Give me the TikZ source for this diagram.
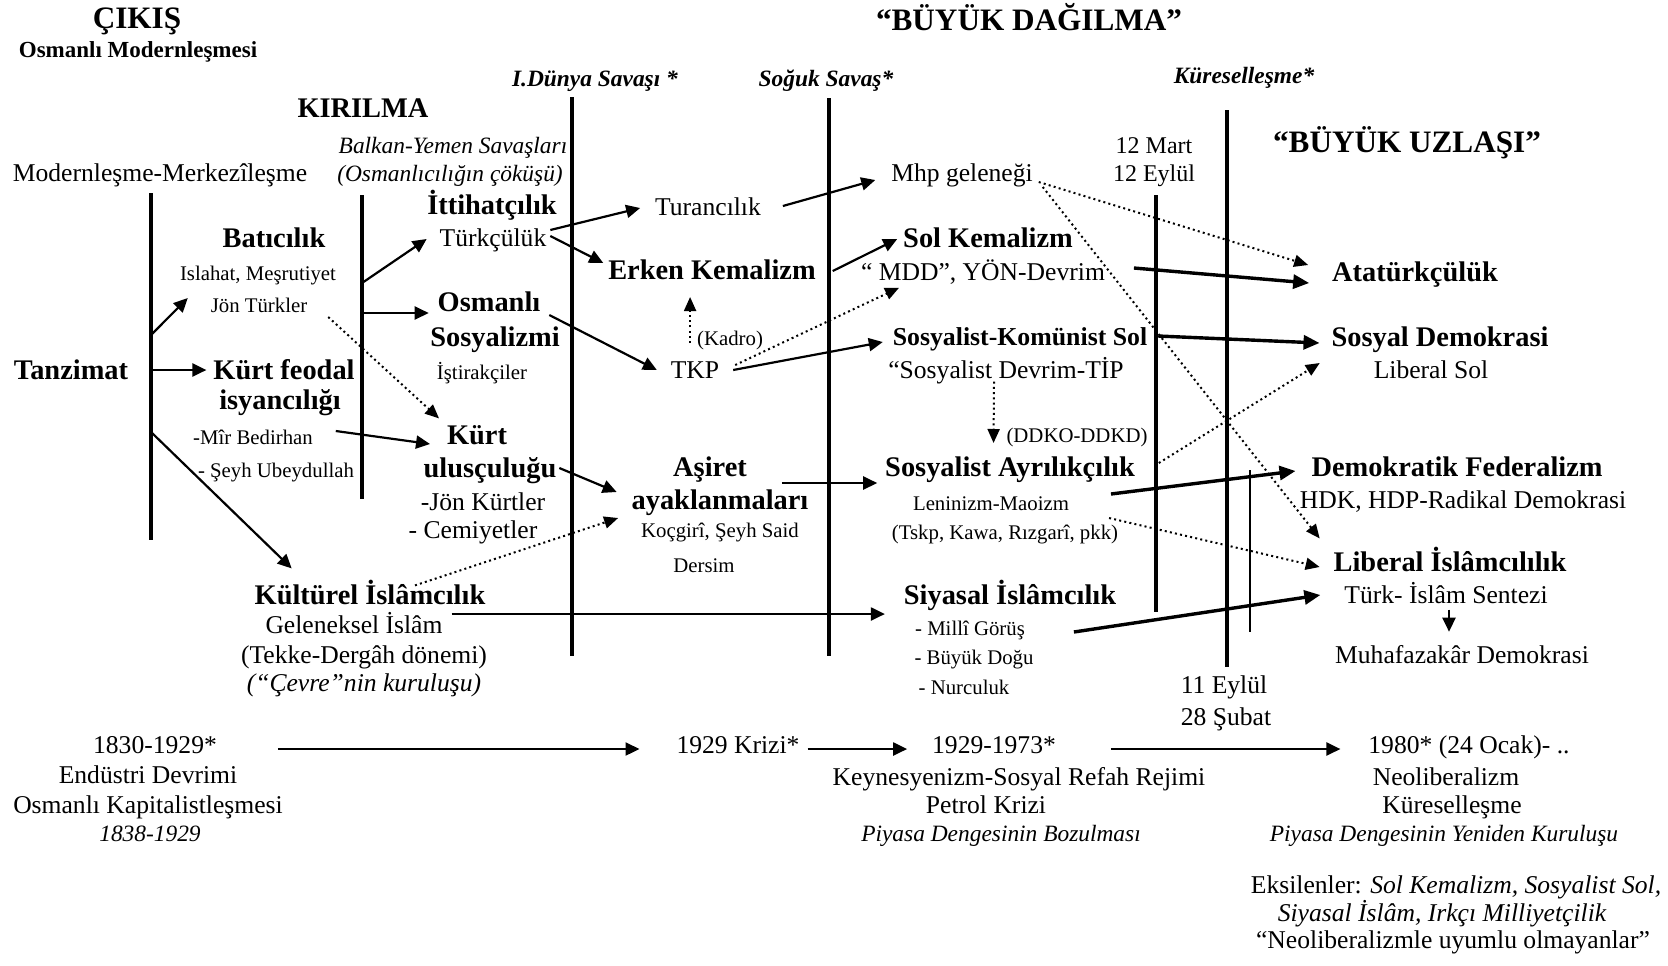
\documentclass[tikz,border=0pt]{standalone}
\usepackage{fontspec}
\setmainfont{Liberation Serif}
\usetikzlibrary{arrows.meta,calc}

\begin{document}
\begin{tikzpicture}[x=0.5pt,y=-0.5pt,
    every node/.style={inner sep=0.5pt,outer sep=0pt,text depth=0pt},
    hd/.style={font=\bfseries\fontsize{15.6}{18}\selectfont,text height=10.6pt},
    tit/.style={font=\bfseries\fontsize{14.2}{17}\selectfont,text height=9.6pt},
    sub/.style={font=\bfseries\fontsize{11.5}{14}\selectfont,text height=7.8pt},
    txt/.style={font=\fontsize{12.8}{15}\selectfont,text height=8.7pt},
    mid/.style={font=\fontsize{12}{14}\selectfont,text height=8.1pt},
    sml/.style={font=\fontsize{10.4}{12}\selectfont,text height=7.1pt},
    per/.style={font=\bfseries\itshape\fontsize{11.7}{14}\selectfont,text height=8pt},
    itl/.style={font=\itshape\fontsize{11.7}{14}\selectfont,text height=8pt},
    itx/.style={font=\itshape\fontsize{12.8}{15}\selectfont,text height=8.7pt},
    vline/.style={line width=1.7pt},
    thin/.style={line width=0.6pt},
    arr/.style={line width=1.1pt,-{Triangle[length=7pt,width=6.5pt]}},
    tarr/.style={line width=1.7pt,-{Triangle[length=8pt,width=7pt]}},
    darr/.style={line width=1pt,dash pattern=on 1pt off 1.6pt,-{Triangle[length=7pt,width=6pt]}}]
    \useasboundingbox (0,0) rectangle (1668,965);

    \coordinate (l1t) at (151,193); \coordinate (l1b) at (151,540);
    \coordinate (l2t) at (362,195); \coordinate (l2b) at (362,499);
    \coordinate (l3t) at (572,97);  \coordinate (l3b) at (572,656);
    \coordinate (l4t) at (829,98);  \coordinate (l4b) at (829,656);
    \coordinate (l5t) at (1156,195); \coordinate (l5b) at (1156,612);
    \coordinate (l6t) at (1227,110); \coordinate (l6b) at (1227,667);
    \coordinate (l7t) at (1250,470); \coordinate (l7b) at (1250,632);
    \coordinate (b1) at (151,335);
    \coordinate (b3) at (151,432);
    \coordinate (b4) at (362,283);
    \coordinate (b5) at (362,313);

    \draw[vline] (l1t) -- (l1b);
    \draw[vline] (l2t) -- (l2b);
    \draw[vline] (l3t) -- (l3b);
    \draw[vline] (l4t) -- (l4b);
    \draw[vline] (l5t) -- (l5b);
    \draw[vline] (l6t) -- (l6b);
    \draw[thin] (l7t) -- (l7b);

    \node[hd] (cikis) at (137,18) {ÇIKIŞ};
    \node[sub] (osmod) at (138,50) {Osmanlı Modernleşmesi};
    \node[tit] (kirilma) at (363,108) {KIRILMA};
    \node[hd] (dagilma) at (1029,20) {“BÜYÜK DAĞILMA”};
    \node[hd] (uzlasi) at (1407,142) {“BÜYÜK UZLAŞI”};
    \node[per] (ww1) at (595,78) {I.Dünya Savaşı *};
    \node[per] (cold) at (826,78) {Soğuk Savaş*};
    \node[per] (glob) at (1244,75) {Küreselleşme*};
    \node[itl] (balkan) at (453,145) {Balkan-Yemen Savaşları};
    \node[itl] (cokus) at (450,173) {(Osmanlıcılığın çöküşü)};
    \node[txt] (modmer) at (160,173) {Modernleşme-Merkezîleşme};
    \node[mid] (mart) at (1154,145) {12 Mart};
    \node[mid] (eylul) at (1154,173) {12 Eylül};

    \node[tit] (tanzimat) at (71,370) {Tanzimat};
    \node[tit] (bati) at (274,238) {Batıcılık};
    \node[sml] (islahat) at (258,273) {Islahat, Meşrutiyet};
    \node[sml] (jonturk) at (259,305) {Jön Türkler};
    \node[tit] (kurtfeo) at (284,370) {Kürt feodal};
    \node[tit] (isyan) at (280,400) {isyancılığı};
    \node[sml] (mir) at (253,437) {-Mîr Bedirhan};
    \node[sml] (seyh) at (276,470) {- Şeyh Ubeydullah};
    \node[tit] (ittihat) at (492,205) {İttihatçılık};
    \node[txt] (turkcu) at (493,238) {Türkçülük};
    \node[tit] (osmanli) at (489,302) {Osmanlı};
    \node[tit] (sosyalizmi) at (495,337) {Sosyalizmi};
    \node[sml] (istirak) at (482,372) {İştirakçiler};
    \node[tit] (kurt) at (477,435) {Kürt};
    \node[tit] (ulus) at (490,468) {ulusçuluğu};
    \node[txt] (jonkurt) at (483,502) {-Jön Kürtler};
    \node[txt] (cemiyet) at (473,530) {- Cemiyetler};
    \node[tit] (kultur) at (370,595) {Kültürel İslâmcılık};
    \node[txt] (gelenek) at (354,625) {Geleneksel İslâm};
    \node[txt] (tekke) at (364,655) {(Tekke-Dergâh dönemi)};
    \node[itx] (cevre) at (364,683) {(“Çevre”nin kuruluşu)};

    \node[txt] (turan) at (708,207) {Turancılık};
    \node[tit] (erken) at (712,270) {Erken Kemalizm};
    \node[sml] (kadro) at (730,338) {(Kadro)};
    \node[txt] (tkp) at (695,370) {TKP};
    \node[tit] (asiret) at (710,467) {Aşiret};
    \node[tit] (ayak) at (720,500) {ayaklanmaları};
    \node[sml] (kocgiri) at (720,530) {Koçgirî, Şeyh Said};
    \node[sml] (dersim) at (704,565) {Dersim};

    \node[txt] (mhp) at (962,173) {Mhp geleneği};
    \node[tit] (solkem) at (988,238) {Sol Kemalizm};
    \node[txt] (mdd) at (983,272) {“ MDD”, YÖN-Devrim};
    \node[font=\bfseries\fontsize{12.9}{15}\selectfont,text height=8.8pt] (sksol) at (1020,337) {Sosyalist-Komünist Sol};
    \node[txt] (devrim) at (1006,370) {“Sosyalist Devrim-TİP};
    \node[sml] (ddko) at (1077,435) {(DDKO-DDKD)};
    \node[tit] (ayrilik) at (1010,467) {Sosyalist Ayrılıkçılık};
    \node[sml] (lenin) at (991,503) {Leninizm-Maoizm};
    \node[sml] (tskp) at (1005,532) {(Tskp, Kawa, Rızgarî, pkk)};
    \node[tit] (siyasal) at (1010,595) {Siyasal İslâmcılık};
    \node[sml] (milli) at (970,628) {- Millî Görüş};
    \node[sml] (buyuk) at (974,657) {- Büyük Doğu};
    \node[sml] (nur) at (964,687) {- Nurculuk};

    \node[tit] (ataturk) at (1415,272) {Atatürkçülük};
    \node[tit] (sosdem) at (1440,337) {Sosyal Demokrasi};
    \node[txt] (libsol) at (1431,370) {Liberal Sol};
    \node[tit] (demfed) at (1457,467) {Demokratik Federalizm};
    \node[txt] (hdk) at (1463,500) {HDK, HDP-Radikal Demokrasi};
    \node[tit] (libisl) at (1450,562) {Liberal İslâmcılılık};
    \node[txt] (turkisl) at (1446,595) {Türk- İslâm Sentezi};
    \node[txt] (muhafaza) at (1462,655) {Muhafazakâr Demokrasi};
    \node[txt] (eylul11) at (1224,685) {11 Eylül};
    \node[txt] (subat) at (1226,717) {28 Şubat};

    \node[txt] (y1830) at (155,745) {1830-1929*};
    \node[txt] (endustri) at (148,775) {Endüstri Devrimi};
    \node[txt] (kapital) at (148,805) {Osmanlı Kapitalistleşmesi};
    \node[itl] (y1838) at (150,833) {1838-1929};
    \node[txt] (kriz) at (738,745) {1929 Krizi*};
    \node[txt] (y1929) at (994,745) {1929-1973*};
    \node[txt] (keynes) at (1019,777) {Keynesyenizm-Sosyal Refah Rejimi};
    \node[txt] (petrol) at (986,805) {Petrol Krizi};
    \node[itl] (bozul) at (1001,833) {Piyasa Dengesinin Bozulması};
    \node[txt] (y1980) at (1469,745) {1980* (24 Ocak)- ..};
    \node[txt] (neolib) at (1446,777) {Neoliberalizm};
    \node[txt] (kuresel) at (1452,805) {Küreselleşme};
    \node[itl] (yeniden) at (1444,833) {Piyasa Dengesinin Yeniden Kuruluşu};
    \node[txt] (eksi1) at (1456,885) {Eksilenler: \textit{Sol Kemalizm, Sosyalist Sol,}};
    \node[itx] (eksi2) at (1442,913) {Siyasal İslâm, Irkçı Milliyetçilik};
    \node[txt] (eksi3) at (1453,940) {“Neoliberalizmle uyumlu olmayanlar”};

    \draw[arr] (b1) -- ($(jonturk.west)+(-22,-7)$);
    \draw[arr] (l1t |- kurtfeo.west) -- ($(kurtfeo.west)+(-6,0)$);
    \draw[arr] (b3) -- ($(kultur.north west)+(38,-16)$);
    \draw[arr] (b4) -- ($(turkcu.west)+(-12,1)$);
    \draw[arr] (b5) -- ($(osmanli.west)+(-8,11)$);
    \draw[darr] ($(jonturk.east)+(20,12)$) -- ($(kurt.north west)+(-7,-6)$);
    \draw[arr] ($(mir.east)+(22,-6)$) -- ($(kurt.west)+(-16,9)$);
    \draw[arr] ($(turkcu.east)+(3,-8)$) -- ($(turan.west)+(-14,1)$);
    \draw[arr] ($(turkcu.east)+(3,-2)$) -- ($(erken.west)+(-4,-7)$);
    \draw[arr] ($(osmanli.east)+(8,13)$) -- ($(tkp.west)+(-13,0)$);
    \draw[arr] ($(ulus.east)+(2,0)$) -- ($(ayak.west)+(-14,-8)$);
    \draw[darr] ($(kultur.north)+(45,1)$) -- ($(kocgiri.west)+(-22,-12)$);
    \draw[arr] ($(gelenek.east)+(8,-11)$) -- ($(siyasal.west)+(-18,19)$);

    \draw[arr] ($(turan.east)+(21,-1)$) -- ($(mhp.west)+(-15,7)$);
    \draw[arr] ($(erken.east)+(16,1)$) -- ($(solkem.west)+(-5,1)$);
    \draw[darr] ($(kadro.west)+(-6,5)$) -- ++(0,-46);
    \draw[darr] ($(tkp.east)+(15,-5)$) -- ($(mdd.south west)+(39,6)$);
    \draw[arr] ($(tkp.east)+(13,0)$) -- ($(sksol.west)+(-9,5)$);
    \draw[arr] ($(asiret.east)+(34,16)$) -- ($(ayrilik.west)+(-7,16)$);

    \draw[darr] ($(devrim.south)+(-12,2)$) -- ($(ddko.west)+(-12,8)$);
    \draw[darr] ($(mhp.east)+(5,9)$) -- ($(ataturk.west)+(-23,-7)$);
    \draw[darr] ($(mhp.east)+(9,14)$) -- ($(libisl.north west)+(-13,-13)$);
    \draw[tarr] ($(mdd.east)+(28,-4)$) -- ($(ataturk.west)+(-22,11)$);
    \draw[tarr] ($(sksol.east)+(10,-1)$) -- ($(sosdem.west)+(-11,6)$);
    \draw[darr] ($(ayrilik.east)+(23,-4)$) -- ($(libsol.west)+(-53,-7)$);
    \draw[tarr] ($(lenin.east)+(41,-9)$) -- ($(demfed.west)+(-15,4)$);
    \draw[darr] ($(tskp.east)+(-10,-14)$) -- ($(libisl.west)+(-13,5)$);
    \draw[tarr] ($(milli.east)+(48,4)$) -- ($(turkisl.west)+(-23,0)$);
    \draw[arr] ($(turkisl.south)+(3,5)$) -- ++(0,22);

    \draw[arr] ($(y1830.east)+(60,4)$) -- ($(kriz.west)+(-36,4)$);
    \draw[arr] ($(kriz.east)+(7,4)$) -- ($(y1929.west)+(-24,4)$);
    \draw[arr] ($(y1929.east)+(54,4)$) -- ($(y1980.west)+(-27,4)$);
\end{tikzpicture}
\end{document}
